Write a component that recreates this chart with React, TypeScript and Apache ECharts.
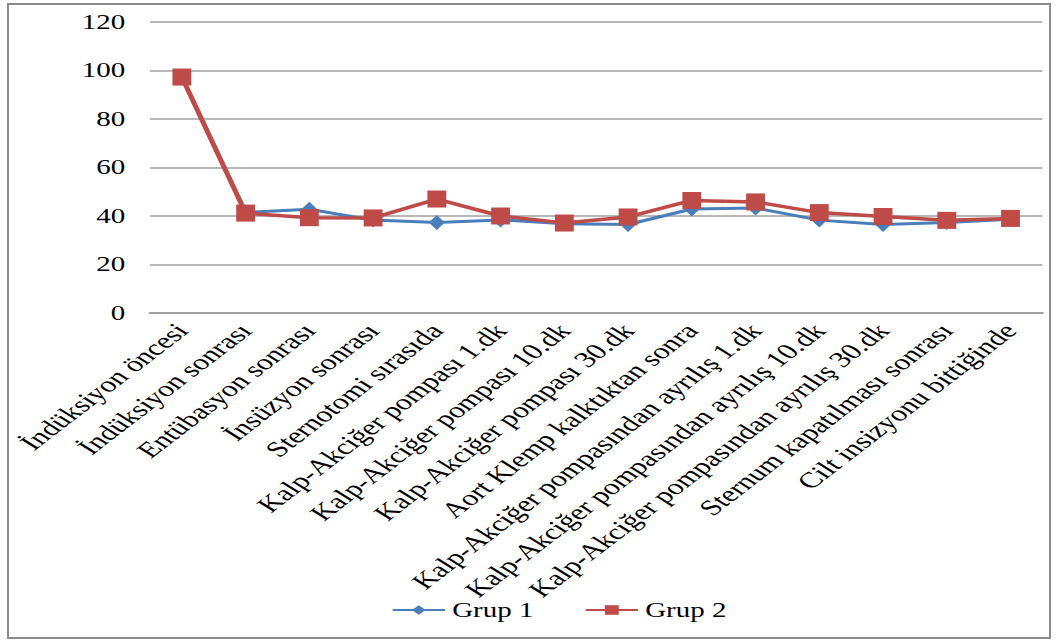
import React, { useEffect, useRef } from "react";
import * as echarts from "echarts";

const categories = [
  "İndüksiyon öncesi",
  "İndüksiyon sonrası",
  "Entübasyon sonrası",
  "İnsüzyon sonrası",
  "Sternotomi sırasıda",
  "Kalp-Akciğer pompası 1.dk",
  "Kalp-Akciğer pompası 10.dk",
  "Kalp-Akciğer pompası 30.dk",
  "Aort Klemp kalktıktan sonra",
  "Kalp-Akciğer pompasından ayrılış 1.dk",
  "Kalp-Akciğer pompasından ayrılış 10.dk",
  "Kalp-Akciğer pompasından ayrılış 30.dk",
  "Sternum kapatılması sonrası",
  "Cilt insizyonu bittiğinde",
];

const grup1 = [97.2, 41.5, 42.8, 38.3, 37.3, 38.4, 36.8, 36.5, 42.9, 43.3, 38.3, 36.5, 37.3, 38.7];
const grup2 = [97.3, 41.2, 39.3, 39.2, 47.0, 40.0, 37.1, 39.6, 46.4, 45.8, 41.4, 39.8, 38.2, 39.0];

const FONT = "'Liberation Serif', 'Times New Roman', serif";

// The chart is laid out on a narrower canvas and widened with a horizontal
// scale, which gives the wide serif lettering and the shallow label slant.
const PAGE_W = 1061;
const PAGE_H = 642;
const STRETCH = 1.45;
const CHART_W = PAGE_W / STRETCH;

export default function App() {
  const ref = useRef<HTMLDivElement>(null);

  useEffect(() => {
    if (!ref.current) return;
    const chart = echarts.init(ref.current, undefined, { renderer: "svg" });
    chart.setOption({
      animation: false,
      backgroundColor: "#ffffff",
      textStyle: { fontFamily: FONT, color: "#000" },
      grid: { left: 150 / STRETCH, right: 19 / STRETCH, top: 22, bottom: 329, containLabel: false },
      legend: {
        bottom: 17,
        left: 384 / STRETCH,
        itemWidth: 36,
        itemHeight: 12,
        itemGap: 35,
        textStyle: { fontFamily: FONT, fontSize: 20, color: "#000" },
        data: ["Grup 1", "Grup 2"],
      },
      xAxis: {
        type: "category",
        data: categories,
        boundaryGap: true,
        axisLine: { show: true, lineStyle: { color: "#a0a0a0", width: 2 } },
        axisTick: { show: false },
        axisLabel: {
          rotate: 48,
          interval: 0,
          margin: 14,
          fontFamily: FONT,
          fontSize: 22,
          color: "#000",
        },
      },
      yAxis: {
        type: "value",
        min: 0,
        max: 120,
        interval: 20,
        axisLine: { show: false },
        axisTick: { show: false },
        axisLabel: { margin: 17, fontFamily: FONT, fontSize: 20, color: "#000" },
        splitLine: { lineStyle: { color: "#a0a0a0", width: 1.5 } },
      },
      series: [
        {
          name: "Grup 1",
          type: "line",
          data: grup1,
          symbol: "diamond",
          symbolSize: [11, 15],
          color: "#4a7ebb",
          lineStyle: { width: 3, color: "#4a7ebb" },
          itemStyle: { color: "#4a7ebb" },
        },
        {
          name: "Grup 2",
          type: "line",
          data: grup2,
          symbol: "rect",
          symbolSize: [13, 17],
          color: "#be4b48",
          lineStyle: { width: 3.5, color: "#be4b48" },
          itemStyle: { color: "#be4b48" },
        },
      ],
    });
    return () => chart.dispose();
  }, []);

  return (
    <div
      style={{
        position: "fixed",
        left: 0,
        top: 0,
        width: PAGE_W,
        height: PAGE_H,
        background: "#fff",
        overflow: "hidden",
      }}
    >
      <div
        ref={ref}
        style={{
          position: "absolute",
          left: 0,
          top: 0,
          width: CHART_W,
          height: PAGE_H,
          transform: `scaleX(${STRETCH})`,
          transformOrigin: "0 0",
        }}
      />
      <div
        style={{
          position: "absolute",
          left: 7,
          top: 3,
          width: 1044,
          height: 636,
          border: "2px solid #8c8c8c",
          boxSizing: "border-box",
          pointerEvents: "none",
        }}
      />
    </div>
  );
}
